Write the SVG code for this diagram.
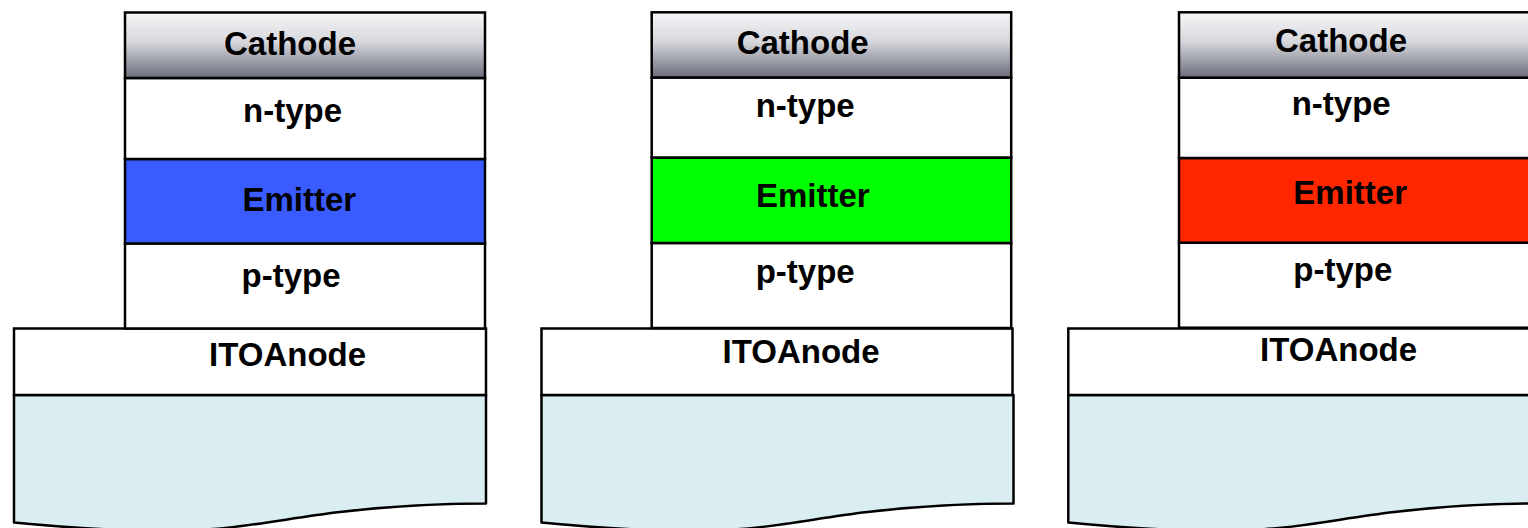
<svg xmlns="http://www.w3.org/2000/svg" width="1528" height="528" viewBox="0 0 1528 528">
  <defs>
    <linearGradient id="metal" x1="0" y1="0" x2="0" y2="1">
      <stop offset="0" stop-color="#f7f7f9"/>
      <stop offset="0.45" stop-color="#d6d7dc"/>
      <stop offset="1" stop-color="#6a6c7a"/>
    </linearGradient>
    <!-- substrate outline with torn lower edge -->
    <path id="glass" d="M14,395 H486 V503.5 C440,503.5 400,505 340,512 C280,519 240,530 170,531 C110,531 50,526 14,522.5 Z"/>
  </defs>
  <style>
    .layer { stroke: #000; stroke-width: 2.5; }
    .cathode { fill: url(#metal); }
    .plain { fill: #ffffff; }
    .sub { fill: #daeef1; stroke: #000; stroke-width: 2.5; stroke-linejoin: round; }
    .blue { fill: #3a5bff; }
    .green { fill: #00ff00; }
    .red { fill: #ff2600; }
    text { font-family: "Liberation Sans", Arial, Helvetica, sans-serif; font-weight: bold; font-size: 33px; fill: #000; }
  </style>
  <rect width="1528" height="528" fill="#ffffff"/>

  <!-- Blue device -->
  <g id="device-blue">
    <g id="blue-substrate"><use href="#glass" class="sub"/></g>
    <g id="blue-ito"><rect class="layer plain" x="14" y="328.5" width="472" height="66.5"/><text x="209" y="365.5">ITOAnode</text></g>
    <g id="blue-ptype"><rect class="layer plain" x="125" y="243.5" width="360" height="85"/><text x="241.5" y="286.5">p-type</text></g>
    <g id="blue-emitter"><rect class="layer blue" x="125" y="159" width="360" height="84.5"/><text x="242.5" y="210.5">Emitter</text></g>
    <g id="blue-ntype"><rect class="layer plain" x="125" y="78" width="360" height="81"/><text x="243" y="121.5">n-type</text></g>
    <g id="blue-cathode"><rect class="layer cathode" x="125" y="12.5" width="360" height="65.5"/><text x="224" y="55">Cathode</text></g>
  </g>

  <!-- Green device -->
  <g id="device-green">
    <g id="green-substrate"><use href="#glass" class="sub" transform="translate(527.5,0)"/></g>
    <g id="green-ito"><rect class="layer plain" x="541.5" y="328.5" width="471" height="66.5"/><text x="722.5" y="363.3">ITOAnode</text></g>
    <g id="green-ptype"><rect class="layer plain" x="651.7" y="243" width="359.5" height="85"/><text x="755.7" y="283.3">p-type</text></g>
    <g id="green-emitter"><rect class="layer green" x="651.7" y="157.5" width="359.5" height="85.5"/><text x="756" y="206.7">Emitter</text></g>
    <g id="green-ntype"><rect class="layer plain" x="651.7" y="77.5" width="359.5" height="80"/><text x="755.7" y="116.7">n-type</text></g>
    <g id="green-cathode"><rect class="layer cathode" x="651.7" y="12.3" width="359.5" height="65.2"/><text x="736.7" y="54.3">Cathode</text></g>
  </g>

  <!-- Red device -->
  <g id="device-red">
    <g id="red-substrate"><use href="#glass" class="sub" transform="translate(1054.3,0)"/></g>
    <g id="red-ito"><rect class="layer plain" x="1068.3" y="328.5" width="480" height="66.5"/><text x="1260" y="361">ITOAnode</text></g>
    <g id="red-ptype"><rect class="layer plain" x="1179" y="242.7" width="370" height="85"/><text x="1293.3" y="280.7">p-type</text></g>
    <g id="red-emitter"><rect class="layer red" x="1179" y="158" width="370" height="84.7"/><text x="1293.3" y="204">Emitter</text></g>
    <g id="red-ntype"><rect class="layer plain" x="1179" y="77.7" width="370" height="80.3"/><text x="1291.7" y="115">n-type</text></g>
    <g id="red-cathode"><rect class="layer cathode" x="1179" y="12.3" width="370" height="65.4"/><text x="1275" y="51.7">Cathode</text></g>
  </g>

  <g id="connectors"/>
</svg>
